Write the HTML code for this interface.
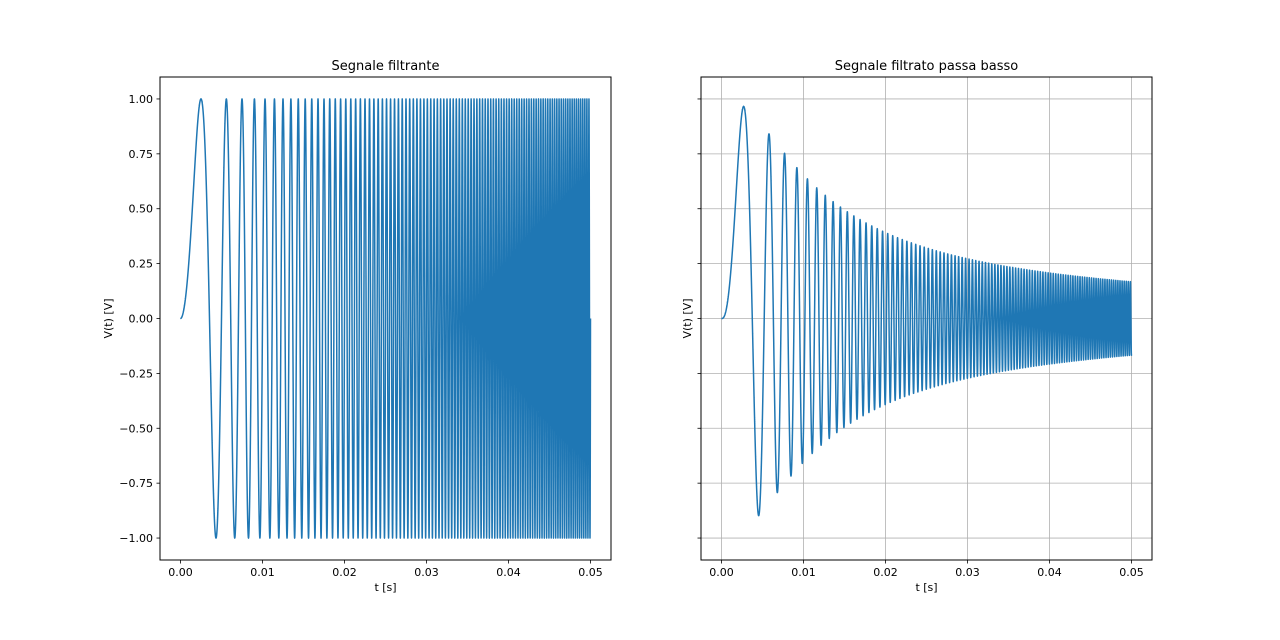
<!DOCTYPE html>
<html><head><meta charset="utf-8">
<style>
html,body{margin:0;padding:0;background:#fff;}
svg{display:block;font-family:"DejaVu Sans","Liberation Sans",sans-serif;}
</style></head>
<body>
<svg id="fig" width="1280" height="640" viewBox="0 0 1280 640"></svg>
<script>
// ---- data (signal parameters) ----
const timeRange = [0, 0.05];          // seconds
const chirpRate = [40000];            // Hz/s : V = sin(2*pi*k*t^2)
const cutoffFreq = [680];             // low-pass cutoff (Hz)
const sampleCount = [50000];
const xTicks = [0, 0.01, 0.02, 0.03, 0.04, 0.05];
const xTickLabels = ["0.00","0.01","0.02","0.03","0.04","0.05"];
const yTicks = [1, 0.75, 0.5, 0.25, 0, -0.25, -0.5, -0.75, -1];
const yTickLabels = ["1.00","0.75","0.50","0.25","0.00","\u22120.25","\u22120.50","\u22120.75","\u22121.00"];
const titles = ["Segnale filtrante", "Segnale filtrato passa basso"];

// ---- build series ----
const N = sampleCount[0];
const tStart = timeRange[0], tEnd = timeRange[1];
const dt = (tEnd - tStart) / (N - 1);
const tArr = [], vIn = [], vOut = [];
const RC = 1 / (2 * Math.PI * cutoffFreq[0]);
const alpha = dt / (RC + dt);
let yf = 0;
for (let i = 0; i < N; i++) {
  const t = tStart + i * dt;
  const v = Math.sin(2 * Math.PI * chirpRate[0] * t * t);
  yf = yf + alpha * (v - yf);
  tArr.push(t); vIn.push(v); vOut.push(yf);
}

const NS = "http://www.w3.org/2000/svg";
const svgRoot = document.getElementById('fig');
function mk(tag, attrs, parent) {
  const e = document.createElementNS(NS, tag);
  for (const k in attrs) e.setAttribute(k, attrs[k]);
  (parent || svgRoot).appendChild(e);
  return e;
}
const axTop = 77, axBottom = 560, yMin = -1.1, yMax = 1.1;
const xMin = -0.0025, xMax = 0.0525;
const panels = [
  {left: 160, right: 611, data: vIn, grid: false},
  {left: 701, right: 1152, data: vOut, grid: true}
];
panels.forEach((p, pi) => {
  const g = mk('g', {});
  
  
  const sx = v => p.left + (v - xMin) / (xMax - xMin) * (p.right - p.left);
  const sy = v => axBottom - (v - yMin) / (yMax - yMin) * (axBottom - axTop);
  if (p.grid) {
    xTicks.forEach(v => {
      const l = mk('line', {x1: sx(v), x2: sx(v), y1: axTop, y2: axBottom, stroke: '#b0b0b0', 'stroke-width': 0.8}, g);
      
      
    });
    yTicks.forEach(v => {
      const l = mk('line', {x1: p.left, x2: p.right, y1: sy(v), y2: sy(v), stroke: '#b0b0b0', 'stroke-width': 0.8}, g);
      
      
    });
  }
  const clipId = 'clip' + pi;
  const cp = mk('clipPath', {id: clipId}, g);
  mk('rect', {x: p.left, y: axTop, width: p.right - p.left, height: axBottom - axTop}, cp);
  const parts = [];
  for (let i = 0; i < N; i++) {
    parts.push((i ? 'L' : 'M') + sx(tArr[i]).toFixed(2) + ' ' + sy(p.data[i]).toFixed(2));
  }
  const path = mk('path', {d: parts.join(''), fill: 'none', stroke: '#1f77b4', 'stroke-width': 1.5, 'stroke-linejoin': 'round', 'clip-path': 'url(#' + clipId + ')'}, g);
  
  
  const frame = mk('rect', {x: p.left, y: axTop, width: p.right - p.left, height: axBottom - axTop, fill: 'none', stroke: '#000', 'stroke-width': 1}, g);
  
  
  xTicks.forEach((v, i) => {
    mk('line', {x1: sx(v), x2: sx(v), y1: axBottom, y2: axBottom + 3.5, stroke: '#000', 'stroke-width': 0.8}, g);
    const tx = mk('text', {x: sx(v), y: axBottom + 16, 'font-size': 11, 'text-anchor': 'middle'}, g);
    tx.textContent = xTickLabels[i];
    
    
  });
  yTicks.forEach((v, i) => {
    mk('line', {x1: p.left - 3.5, x2: p.left, y1: sy(v), y2: sy(v), stroke: '#000', 'stroke-width': 0.8}, g);
    if (pi === 0) {
      const tx = mk('text', {x: p.left - 7, y: sy(v) + 4, 'font-size': 11, 'text-anchor': 'end'}, g);
      tx.textContent = yTickLabels[i];
      
      
    }
  });
  const ti = mk('text', {x: (p.left + p.right) / 2, y: axTop - 7, 'font-size': 13, 'text-anchor': 'middle'}, g);
  ti.textContent = titles[pi];
  
  
  const xl = mk('text', {x: (p.left + p.right) / 2, y: axBottom + 31, 'font-size': 11, 'text-anchor': 'middle'}, g);
  xl.textContent = 't [s]';
  
  
  const yx = pi === 0 ? p.left - 48 : p.left - 10;
  const yl = mk('text', {x: yx, y: (axTop + axBottom) / 2, 'font-size': 11, 'text-anchor': 'middle', transform: 'rotate(-90 ' + yx + ' ' + (axTop + axBottom) / 2 + ')'}, g);
  yl.textContent = 'V(t) [V]';
  
  
});
</script>
</body></html>
